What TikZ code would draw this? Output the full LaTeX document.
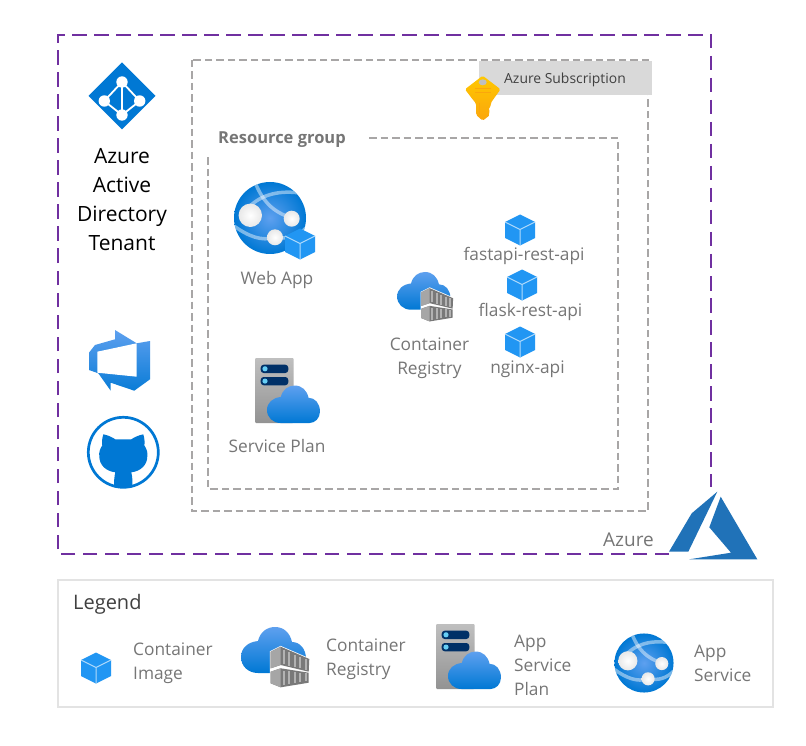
\documentclass[tikz,border=0pt]{standalone}
\usepackage{fontspec}
\setmainfont{Open Sans}
\usepackage{xcolor}
\usepackage{tikz}
\usetikzlibrary{arrows.meta, positioning, calc}
\definecolor{tenantpurple}{HTML}{7030A0}
\definecolor{boxgray}{HTML}{A8A6A6}
\definecolor{labelgray}{HTML}{767676}
\definecolor{azureblue}{HTML}{0078D4}
\definecolor{skyblue}{HTML}{5EA0EF}
\definecolor{cubeblue}{HTML}{2196F3}
\definecolor{logoblue}{HTML}{2072B8}
\definecolor{navyblue}{HTML}{003067}
\definecolor{keygold}{HTML}{FFC800}
\definecolor{keyamber}{HTML}{FBA60C}
\newcommand{\labelsize}{\fontsize{17.3}{24}\selectfont}
\tikzset{
    label text/.style={font=\labelsize, text=labelgray, align=center, inner sep=0pt, yshift=-1.5pt},
    legend text/.style={label text, align=left, anchor=west},
    tenant text/.style={font=\fontsize{21}{29}\selectfont, text=black, align=center, inner sep=0pt},
    cubeicon/.pic={
        \fill[cubeblue] (0,-15.5) -- (15,-8) -- (15,8) -- (0,15.5) -- (-15,8) -- (-15,-8) -- cycle;
        \draw[white!65!cubeblue, line width=1pt] (-15,-8) -- (0,-0.5) -- (15,-8) (0,-0.5) -- (0,15.5);
    },
    cloudicon/.pic={
        \shade[top color=skyblue, bottom color=azureblue] (-17,16)
            .. controls (-27,16) and (-34,9) .. (-34,0)
            .. controls (-34,-9) and (-27,-15) .. (-17,-16)
            .. controls (-15,-25) and (-8,-30) .. (0,-30)
            .. controls (9,-30) and (15,-24) .. (17,-15)
            .. controls (25,-15) and (31,-8) .. (31,2)
            .. controls (31,10) and (25,16) .. (18,16) -- cycle;
    },
    registryicon/.pic={
        \pic[transform shape] {cloudicon};
        \draw[white, line width=1.5pt, fill=white] (-4.3,-5.3) -- (5.7,-10.3) -- (34.3,2) -- (33.7,25.7) -- (5.7,30.3) -- (-4.3,26.3) -- cycle;
        \fill[gray!95!black] (-4.3,-5.3) -- (5.7,-10.3) -- (34.3,2) -- (33.7,14.7) -- (5.7,8) -- (-4.3,11.3) -- cycle;
        \fill[gray!95!black] (-4.3,14.7) -- (5.7,11.3) -- (33.7,15.7) -- (33.7,25.7) -- (5.7,30.3) -- (-4.3,26.3) -- cycle;
        \fill[gray!70] (-4.3,-5.3) -- (5.7,-10.3) -- (5.7,8) -- (-4.3,11.3) -- cycle;
        \fill[gray!70] (-4.3,14.7) -- (5.7,11.3) -- (5.7,30.3) -- (-4.3,26.3) -- cycle;
        \foreach \t in {.1,.3,.5,.7,.9} {
            \draw[gray!60, line width=2pt] ({5.7+28*\t},{-8.5+12*\t}) -- ({5.7+28*\t},{6.5+6.7*\t});
            \draw[gray!60, line width=2pt] ({5.7+28*\t},{13.5+3*\t}) -- ({5.7+28*\t},{28.5-4.6*\t});
        }
    },
    planicon/.pic={
        \shade[top color=gray!50, bottom color=gray!85, rounded corners=1pt] (0,0) rectangle (38.5,65);
        \foreach \y in {6.7,19} {
            \fill[navyblue, rounded corners=3pt] (5.7,\y) rectangle (33.3,\y+8.3);
            \fill[cyan!60!white] (10,\y+4.1) circle[radius=2.6];
        }
        \pic[scale=0.815] at (39.7,52) {cloudicon};
    },
    globeicon/.pic={
        \shade[inner color=skyblue, outer color=azureblue] (0,0) circle[radius=36];
        \begin{scope}
            \clip (0,0) circle[radius=36];
            \draw[white, opacity=0.45, line width=3.5pt] (-15,-36) .. controls (-8,-18) and (2,-6) .. (22,0);
            \draw[white, opacity=0.45, line width=3.5pt] (-20,-12) .. controls (-5,-26) and (15,-28) .. (36,-24);
            \draw[white, opacity=0.45, line width=3.5pt] (-36,8) .. controls (-22,18) and (-8,24) .. (5,19);
            \draw[white, opacity=0.45, line width=3.5pt] (5,19) .. controls (18,22) and (28,18) .. (36,10);
        \end{scope}
        \shade[inner color=white, outer color=gray!18] (-19.7,-2.7) circle[radius=11.7];
        \shade[inner color=white, outer color=gray!18] (21.7,0.7) circle[radius=8];
        \shade[inner color=white, outer color=gray!18] (5,19.3) circle[radius=8];
    },
    keyicon/.pic={
        \shade[top color=keygold, bottom color=keyamber, rounded corners=1.5pt] (-0.3,-0.3) -- (17.5,13.3) -- (9.5,24.5) -- (7.7,27.3) -- (7.7,31) -- (5,33) -- (7.5,35.5) -- (5,37) -- (7,39) -- (-0.3,44.7) -- (-6.8,39) -- (-7,27.3) -- (-9.5,24.5) -- (-18,13.3) -- cycle;
        \fill[gray!50] (-0.3,6.3) ellipse[x radius=4, y radius=3];
        \draw[keyamber, line width=0.8pt] (-8,12.5) -- (8,12.5) (-8,16.5) -- (8,16.5);
        \draw[keyamber, line width=1pt] (-3.5,27) -- (-3.5,38);
    },
    aadicon/.pic={
        \fill[azureblue] (0,-33.5) -- (33.5,0) -- (0,33.5) -- (-33.5,0) -- cycle;
        \draw[white, line width=1.8pt] (0,-14) -- (17.7,5) -- (0,19) -- (-17.7,5) -- cycle (0,-14) -- (0,19);
        \foreach \p in {(0,-14),(17.7,5),(0,19),(-17.7,5)} {
            \fill[white] \p circle[radius=5.7];
        }
    },
    devopsicon/.pic={
        \shade[top color=skyblue, bottom color=azureblue!90!skyblue] (115,330) -- (136.7,343.3) -- (150,341) -- (150,379.3) -- (134.3,390.7) -- (110.7,382.7) -- (110.7,390.7) -- (98.3,373.3) -- (89,370) -- (89,352.7) -- (95,345) -- (115,339.3) -- cycle;
        \fill[white] (97.3,351.7) -- (136.7,343.3) -- (136.7,376.7) -- (97.3,372.7) -- cycle;
    },
    githubicon/.pic={
        \draw[azureblue, line width=2.7pt] (0,0) circle[radius=35];
        \fill[azureblue] (-20,-18) .. controls (-15,-17) and (-11,-15) .. (-8,-13) -- (8,-13)
            .. controls (11,-15) and (15,-17) .. (20,-18)
            .. controls (21.5,-13) and (21.5,-9) .. (21,-7)
            .. controls (23.5,-3) and (24.5,0) .. (24,4)
            .. controls (24,13) and (17,19) .. (8,20)
            .. controls (9,24) and (9.5,30) .. (9,35) -- (-9,35)
            .. controls (-9.5,30) and (-9,24) .. (-8,20)
            .. controls (-17,19) and (-24,13) .. (-24,4)
            .. controls (-24.5,0) and (-23.5,-3) .. (-21,-7)
            .. controls (-21.5,-9) and (-21.5,-13) .. (-20,-18) -- cycle;
    },
}
\begin{document}
\begin{tikzpicture}[x=1pt, y=-1pt]
    \useasboundingbox (0,0) rectangle (806,746);
    \fill[white] (0,0) rectangle (806,746);
    \draw[tenantpurple, line width=2.2pt, dash pattern=on 14.5pt off 7.5pt] (669,554) -- (58,554) -- (58,35) -- (711,35) -- (711,487);
    \draw[boxgray, line width=2pt, dash pattern=on 7.5pt off 4pt] (192,60) rectangle (648,511);
    \draw[boxgray, line width=2pt, dash pattern=on 7.5pt off 4pt] (369,138) -- (618,138) -- (618,489) -- (208,489) -- (208,157);
    \node[fill=gray!30, minimum width=173pt, minimum height=34pt, inner sep=0pt] (subscription) at (565.5,78) {};
    \node[inner sep=0pt, font=\fontsize{13.9}{16}\selectfont, text=black!75] (subscriptiontext) at (565,79.5) {Azure Subscription};
    \node[label text, font=\bfseries\fontsize{16.5}{20}\selectfont, anchor=west] (resourcegroup) at (218,138) {Resource group};

    \pic at (122,96) {aadicon};
    \node[tenant text] (tenant) at (122,199.5) {Azure\\Active\\Directory\\Tenant};
    \pic {devopsicon};
    \pic at (123.3,452.3) {githubicon};
    \pic at (483,76) {keyicon};

    \pic at (270,218) {globeicon};
    \pic at (300,244) {cubeicon};
    \node[label text] (webapp) at (277,278.5) {Web App};
    \pic at (255,358) {planicon};
    \node[label text] (serviceplan) at (277,444.5) {Service Plan};
    \pic[scale=0.82] at (425,296.6) {registryicon};
    \node[label text] (registry) at (429.5,356.5) {Container\\Registry};

    \pic at (520,230) {cubeicon};
    \node[label text] (fastapi) at (524,254) {fastapi-rest-api};
    \pic at (522,285) {cubeicon};
    \node[label text] (flask) at (530.5,310) {flask-rest-api};
    \pic at (520,342) {cubeicon};
    \node[label text] (nginx) at (527.5,367.5) {nginx-api};

    \node[label text, font=\fontsize{19}{24}\selectfont] (azure) at (628.5,538) {Azure};
    \fill[logoblue] (717.3,491.7) -- (691.7,513.3) -- (669,551.7) -- (688.3,551.7) -- cycle;
    \fill[logoblue] (720.7,496.7) -- (709.3,527.3) -- (731,552.7) -- (689.3,559.3) -- (757.3,559.3) -- cycle;

    \draw[gray!22, line width=2pt] (58,580) rectangle (773,707);
    \node[font=\fontsize{20}{24}\selectfont, text=black!75, inner sep=0pt, anchor=west, yshift=-1.5pt] (legend) at (73,602.5) {Legend};
    \pic at (96,668) {cubeicon};
    \node[legend text] (legendimage) at (133,662) {Container\\Image};
    \pic at (275,657) {registryicon};
    \node[legend text] (legendregistry) at (326,657.5) {Container\\Registry};
    \pic at (436,624) {planicon};
    \node[legend text] (legendplan) at (514,663.5) {App\\Service\\Plan};
    \pic[scale=0.82] at (644,663) {globeicon};
    \node[legend text] (legendservice) at (694,661.5) {App\\Service};
\end{tikzpicture}
\end{document}
